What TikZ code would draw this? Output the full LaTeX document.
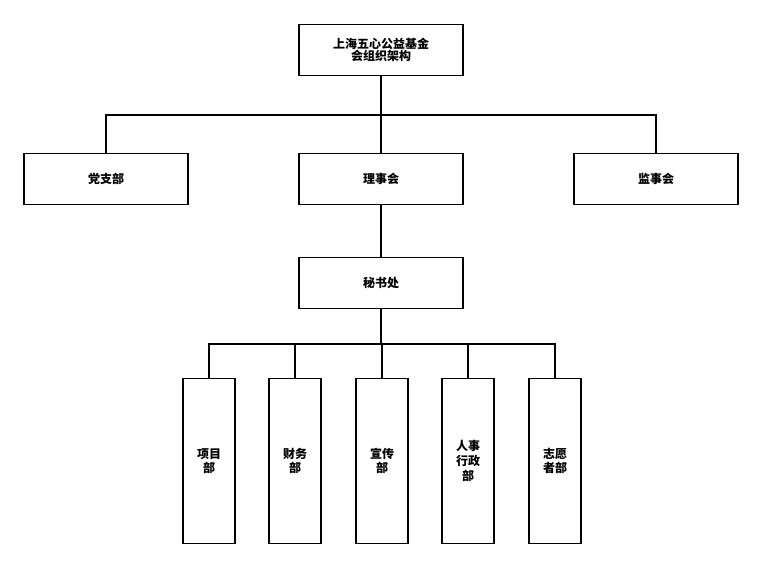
\documentclass[tikz,border=0pt]{standalone}
\usepackage{fontspec}
\newfontfamily\cjk{Noto Sans CJK SC}
\usetikzlibrary{positioning}
\tikzset{
  wbox/.style={draw, thick, minimum width=123pt, minimum height=38pt, font=\cjk\small\bfseries},
  tbox/.style={draw, thick, minimum width=39pt, minimum height=124pt, font=\cjk\small\bfseries, align=center}
}
\begin{document}
\begin{tikzpicture}[x=0.75pt, y=-0.75pt]
	\useasboundingbox (0,0) rectangle (763,568);

	% Nodes:
	\node[wbox, align=center] (top) at (381, 50) {上海五心公益基金\\[-2pt]会组织架构};
	\node[wbox] (dang) at (106, 179) {党支部};
	\node[wbox] (lishi) at (381, 179) {理事会};
	\node[wbox] (jianshi) at (656, 179) {监事会};
	\node[wbox] (mishu) at (381, 283) {秘书处};

	\node[tbox] (xiangmu) at (209, 461) {项目\\部};
	\node[tbox] (caiwu) at (295, 461) {财务\\部};
	\node[tbox] (xuanchuan) at (382, 461) {宣传\\部};
	\node[tbox] (renshi) at (468, 461) {人事\\行政\\部};
	\node[tbox] (zhiyuan) at (555, 461) {志愿\\者部};

	\coordinate (busA) at (381, 115);
	\coordinate (busB) at (381, 344);

	% Lines:
	\draw[thick] (top.south) -- (busA) -| (dang.north);
	\draw[thick] (busA) -| (jianshi.north);
	\draw[thick] (busA) -- (lishi.north);
	\draw[thick] (lishi.south) -- (mishu.north);
	\draw[thick] (mishu.south) -- (busB);
	\foreach \d in {xiangmu, caiwu, xuanchuan, renshi, zhiyuan}
		\draw[thick] (busB) -| (\d.north);
\end{tikzpicture}
\end{document}
